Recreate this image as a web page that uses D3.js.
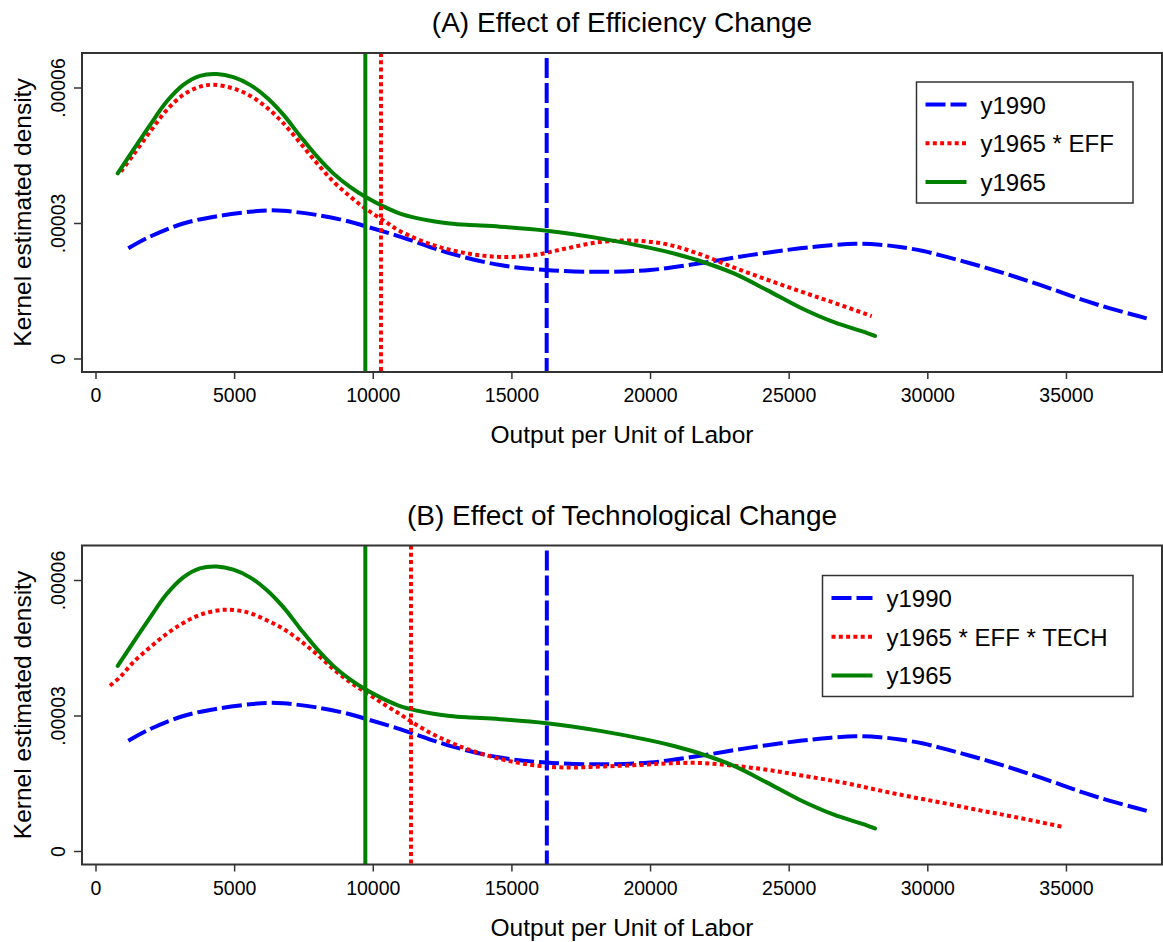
<!DOCTYPE html>
<html>
<head>
<meta charset="utf-8">
<script src="https://cdn.jsdelivr.net/npm/d3@7"></script>
<style>
  body { margin: 0; background: #fff; }
  svg { display: block; font-family: "Liberation Sans", Arial, Helvetica, sans-serif; }
</style>
</head>
<body>
<svg width="1163" height="942"></svg>
<script>
// kernel density curves (x = output per unit of labor)
const y1990X = [1165, 1948, 3149, 4353, 5554, 6156, 6756, 7960, 9161, 9713, 10964, 12767, 14571, 16230, 18180, 19980, 21783, 23587, 25390, 26500, 27400, 28275, 29000, 29838, 30680, 31522, 32363, 33205, 34046, 34888, 35730, 36571, 37412, 37893]
const y1990D = [2.45e-5, 2.71e-5, 3.0e-5, 3.16e-5, 3.26e-5, 3.29e-5, 3.28e-5, 3.19e-5, 3.04e-5, 2.94e-5, 2.71e-5, 2.34e-5, 2.08e-5, 1.97e-5, 1.93e-5, 1.97e-5, 2.12e-5, 2.3e-5, 2.45e-5, 2.52e-5, 2.55e-5, 2.53e-5, 2.48e-5, 2.39e-5, 2.26e-5, 2.12e-5, 1.97e-5, 1.81e-5, 1.64e-5, 1.46e-5, 1.28e-5, 1.12e-5, 0.98e-5, 0.9e-5]

const y1965X = [783, 1345, 1948, 2550, 3149, 3751, 4353, 4953, 5554, 6156, 6756, 7357, 7960, 8558, 9161, 9713, 10362, 10964, 11566, 12167, 12767, 13369, 14571, 16255, 18180, 19980, 20880, 21783, 22985, 24187, 25390, 26592, 27796, 28095]
const y1965D = [4.11e-5, 4.63e-5, 5.18e-5, 5.7e-5, 6.07e-5, 6.27e-5, 6.31e-5, 6.24e-5, 6.07e-5, 5.79e-5, 5.41e-5, 4.94e-5, 4.49e-5, 4.11e-5, 3.81e-5, 3.59e-5, 3.38e-5, 3.22e-5, 3.12e-5, 3.05e-5, 3.0e-5, 2.97e-5, 2.93e-5, 2.84e-5, 2.67e-5, 2.46e-5, 2.33e-5, 2.17e-5, 1.9e-5, 1.53e-5, 1.14e-5, 0.82e-5, 0.58e-5, 0.51e-5]

const effX = [900, 1345, 1948, 2550, 3149, 3751, 4230, 4950, 5554, 6156, 6756, 7357, 7960, 8558, 9161, 9713, 10362, 10964, 12167, 13369, 14571, 15773, 16975, 18177, 19380, 20582, 21783, 22985, 24187, 25390, 26500, 27975]
const effD = [4.15e-5, 4.52e-5, 5.03e-5, 5.51e-5, 5.85e-5, 6.03e-5, 6.07e-5, 5.99e-5, 5.83e-5, 5.57e-5, 5.22e-5, 4.79e-5, 4.34e-5, 3.93e-5, 3.6e-5, 3.33e-5, 3.07e-5, 2.83e-5, 2.52e-5, 2.34e-5, 2.26e-5, 2.3e-5, 2.45e-5, 2.59e-5, 2.62e-5, 2.54e-5, 2.32e-5, 2.03e-5, 1.76e-5, 1.5e-5, 1.27e-5, 0.95e-5]

const techX = [505, 866, 1345, 1948, 2550, 3149, 3751, 4593, 5434, 6156, 6756, 7357, 7960, 8558, 9161, 9713, 10362, 10964, 11566, 12167, 12767, 13369, 14571, 15773, 16975, 18177, 19379, 20581, 21783, 22985, 24187, 25390, 27074, 28275, 29477, 30680, 31882, 33084, 34829]
const techD = [3.67e-5, 3.86e-5, 4.19e-5, 4.52e-5, 4.82e-5, 5.06e-5, 5.24e-5, 5.35e-5, 5.3e-5, 5.12e-5, 4.93e-5, 4.67e-5, 4.37e-5, 4.04e-5, 3.75e-5, 3.53e-5, 3.27e-5, 3.04e-5, 2.8e-5, 2.59e-5, 2.42e-5, 2.27e-5, 2.05e-5, 1.91e-5, 1.86e-5, 1.88e-5, 1.91e-5, 1.95e-5, 1.96e-5, 1.9e-5, 1.81e-5, 1.69e-5, 1.51e-5, 1.35e-5, 1.2e-5, 1.06e-5, 0.91e-5, 0.77e-5, 0.55e-5]

// means (vertical lines): y1990, counterfactual, y1965
const meansA = [16254, 10279, 9713]
const meansB = [16260, 11361, 9713]

const titles = ["(A) Effect of Efficiency Change", "(B) Effect of Technological Change"]
const legendA = ["y1990", "y1965 * EFF", "y1965"]
const legendB = ["y1990", "y1965 * EFF * TECH", "y1965"]

const xTicks = [0, 5000, 10000, 15000, 20000, 25000, 30000, 35000]
const yTicks = [0, 0.00003, 0.00006]
const yTickLabels = ["0", ".00003", ".00006"]

const xLabel = "Output per Unit of Labor"
const yLabel = "Kernel estimated density"

const svg = d3.select("svg")

const zip = (xs, ys) => xs.map((x, i) => [x, ys[i]])

// line styles: dashed blue, dotted red, solid green
const styles = [
	{ color: "#0000ff", dash: "20,5" },
	{ color: "#ff0000", dash: "4,3.3" },
	{ color: "#008000", dash: null },
]

const x = d3.scaleLinear().domain([-505, 38446]).range([82, 1162])

function panel(top, title, series, means, legendText, legendBox) {
	const bottom = top + 319
	const y = d3.scaleLinear().domain([-2.88e-6, 6.775e-5]).range([bottom, top])
	const g = svg.append("g")

	g.append("text")
		.attr("x", 622)
		.attr("y", top - 21)
		.attr("text-anchor", "middle")
		.style("font-size", "28px")
		.text(title)

	// clip so vertical lines stay inside the box
	const clipId = "clip" + top
	g.append("clipPath")
		.attr("id", clipId)
		.append("rect")
		.attr("x", 82)
		.attr("y", top)
		.attr("width", 1080)
		.attr("height", 319)

	const plot = g.append("g").attr("clip-path", `url(#${clipId})`)

	const line = d3
		.line()
		.x(d => x(d[0]))
		.y(d => y(d[1]))
		.curve(d3.curveCatmullRom.alpha(0.5))

	series.forEach((s, i) => {
		plot.append("path")
			.datum(s)
			.attr("d", line)
			.attr("fill", "none")
			.attr("stroke", styles[i].color)
			.attr("stroke-width", 4)
			.attr("stroke-dasharray", styles[i].dash)
			.attr("stroke-linecap", styles[i].dash ? "butt" : "round")
	})

	means.forEach((m, i) => {
		plot.append("line")
			.attr("x1", x(m))
			.attr("x2", x(m))
			.attr("y1", i === 0 ? top + 5 : top)
			.attr("y2", bottom)
			.attr("stroke", styles[i].color)
			.attr("stroke-width", 4)
			.attr("stroke-dasharray", styles[i].dash)
	})

	// box
	g.append("rect")
		.attr("x", 82)
		.attr("y", top)
		.attr("width", 1080)
		.attr("height", 319)
		.attr("fill", "none")
		.attr("stroke", "#333")
		.attr("stroke-width", 2)

	// x axis
	const xAxis = g.append("g").attr("transform", `translate(0,${bottom})`)
	xAxis.selectAll("line")
		.data(xTicks)
		.enter()
		.append("line")
		.attr("x1", d => x(d))
		.attr("x2", d => x(d))
		.attr("y1", 0)
		.attr("y2", 7)
		.attr("stroke", "#333")
		.attr("stroke-width", 1.5)
	xAxis.selectAll("text")
		.data(xTicks)
		.enter()
		.append("text")
		.attr("x", d => x(d))
		.attr("y", 30)
		.attr("text-anchor", "middle")
		.style("font-size", "19.5px")
		.text(d => d)
	g.append("text")
		.attr("x", 622)
		.attr("y", bottom + 71)
		.attr("text-anchor", "middle")
		.style("font-size", "24.5px")
		.text(xLabel)

	// y axis
	const yAxis = g.append("g")
	yAxis.selectAll("line")
		.data(yTicks)
		.enter()
		.append("line")
		.attr("x1", 74)
		.attr("x2", 82)
		.attr("y1", d => y(d))
		.attr("y2", d => y(d))
		.attr("stroke", "#333")
		.attr("stroke-width", 1.5)
	yAxis.selectAll("text")
		.data(yTicks)
		.enter()
		.append("text")
		.attr("transform", d => `translate(65,${y(d)}) rotate(-90)`)
		.attr("text-anchor", "middle")
		.style("font-size", "19.5px")
		.text((d, i) => yTickLabels[i])
	g.append("text")
		.attr("transform", `translate(31,${(top + bottom) / 2}) rotate(-90)`)
		.attr("text-anchor", "middle")
		.style("font-size", "24.5px")
		.text(yLabel)

	// legend
	const lg = g.append("g")
	lg.append("rect")
		.attr("x", legendBox[0])
		.attr("y", legendBox[1])
		.attr("width", legendBox[2])
		.attr("height", 121)
		.attr("fill", "#fff")
		.attr("stroke", "#333")
		.attr("stroke-width", 1.5)
	legendText.forEach((t, i) => {
		const ly = legendBox[1] + 22.5 + i * 38.7
		lg.append("line")
			.attr("x1", legendBox[0] + 9)
			.attr("x2", legendBox[0] + 50)
			.attr("y1", ly)
			.attr("y2", ly)
			.attr("stroke", styles[i].color)
			.attr("stroke-width", 4)
			.attr("stroke-dasharray", styles[i].dash)
		lg.append("text")
			.attr("x", legendBox[0] + 64)
			.attr("y", ly + 9)
			.style("font-size", "24px")
			.text(t)
	})
}

panel(53, titles[0],
	[zip(y1990X, y1990D), zip(effX, effD), zip(y1965X, y1965D)],
	meansA, legendA, [916.5, 82, 216.5])

panel(545.5, titles[1],
	[zip(y1990X, y1990D), zip(techX, techD), zip(y1965X, y1965D)],
	meansB, legendB, [822.5, 575.5, 310.5])
</script>
</body>
</html>
